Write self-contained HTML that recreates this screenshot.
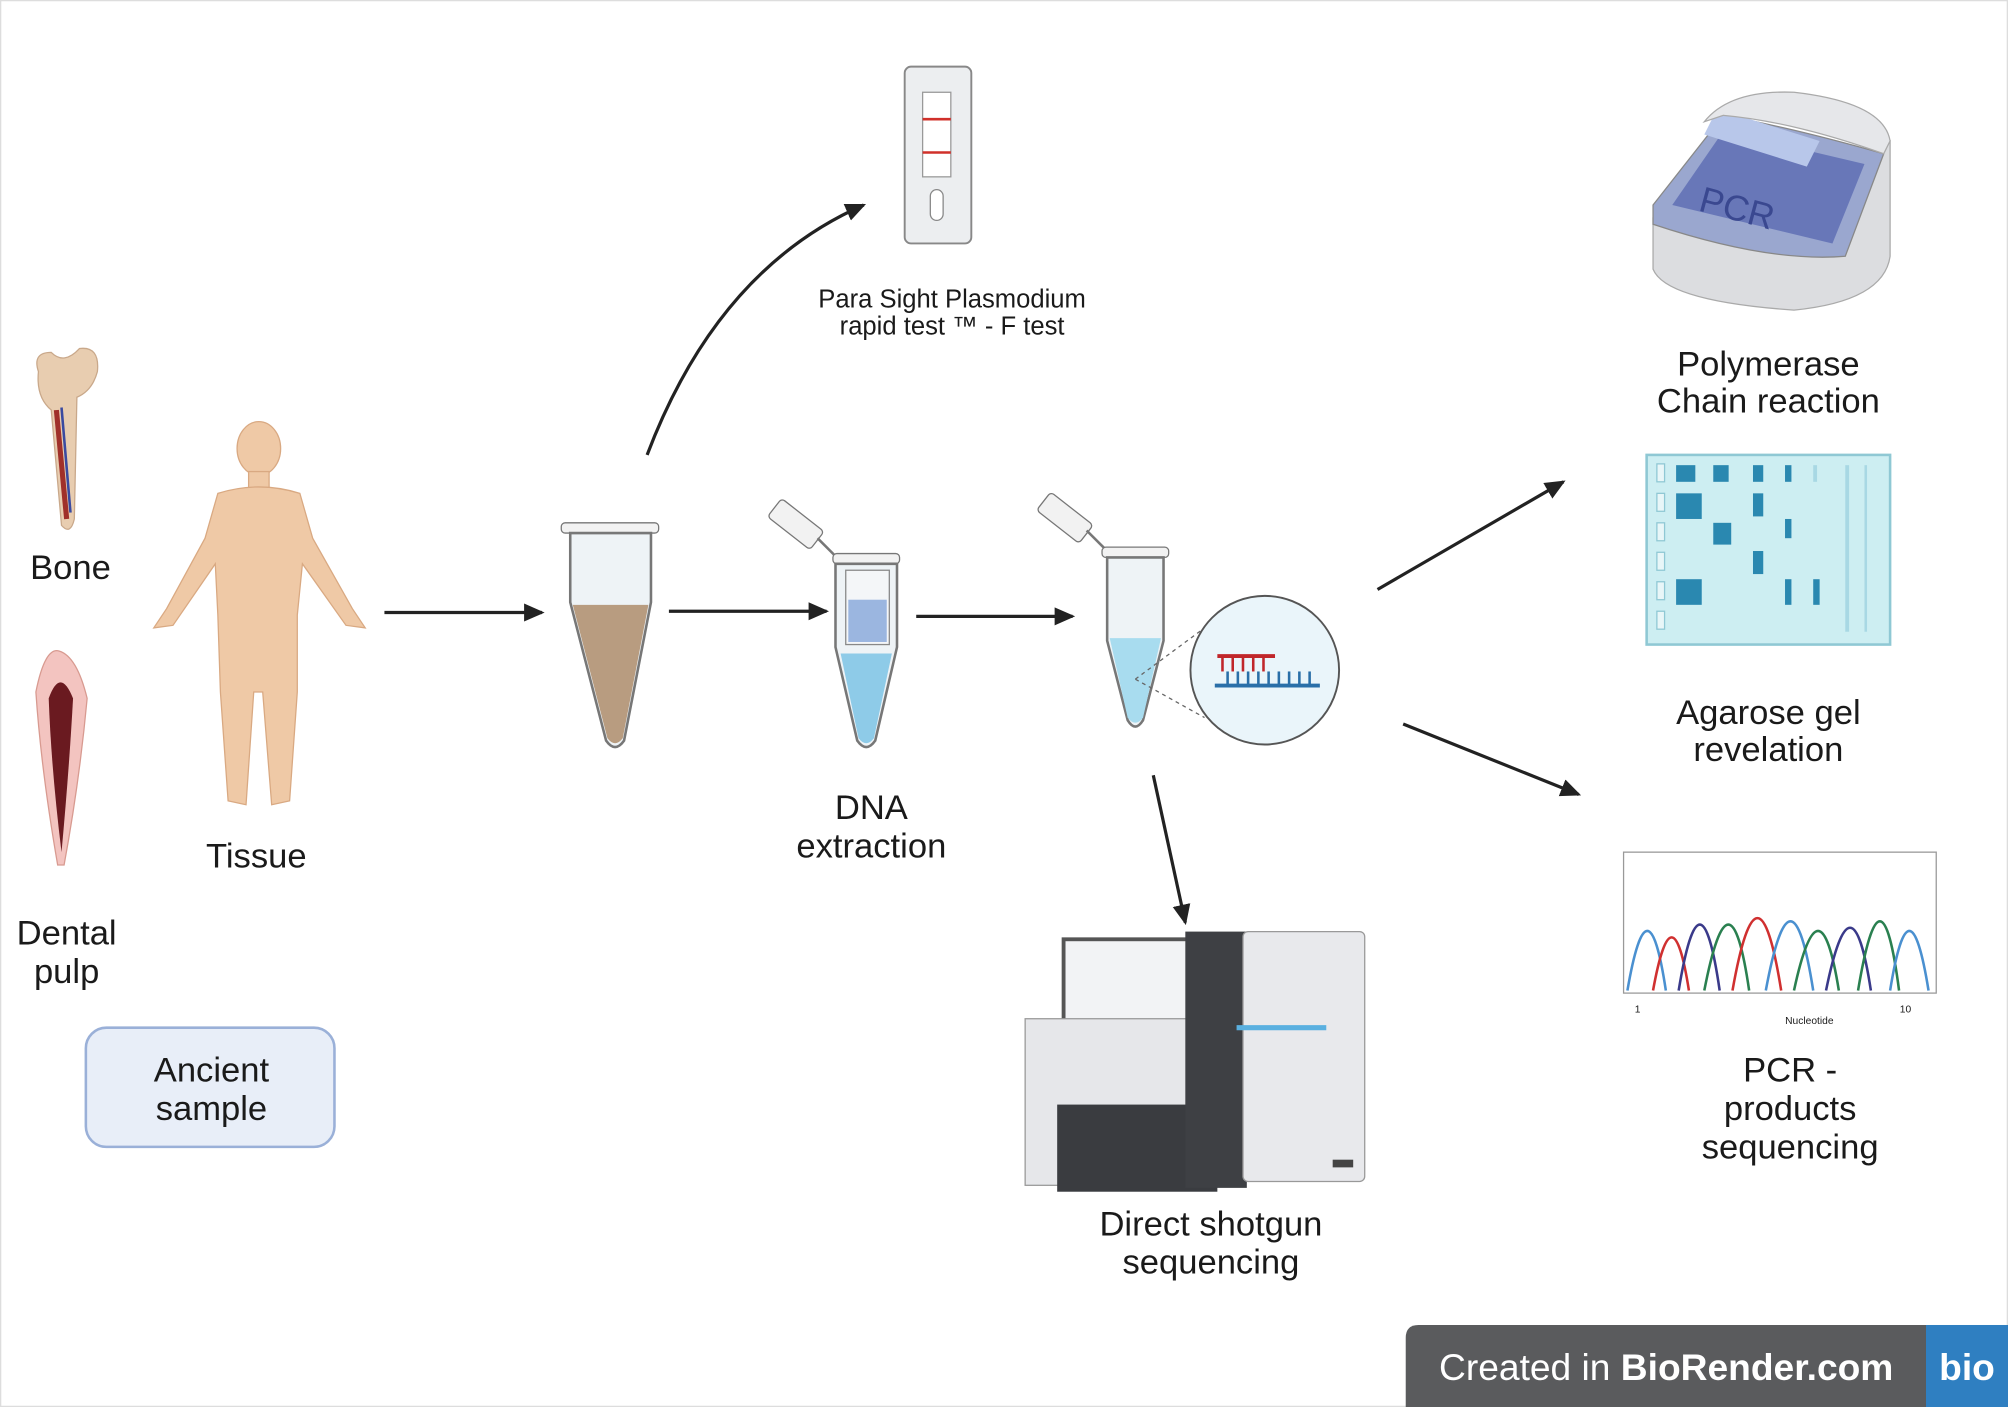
<!DOCTYPE html>
<html><head><meta charset="utf-8"><style>
html,body{margin:0;padding:0;background:#fff;}
svg{display:block;}
text{font-family:"Liberation Sans",sans-serif;fill:#1a1a1a;}
</style></head><body>
<svg width="2008" height="1407" viewBox="0 0 1567 1098" xmlns="http://www.w3.org/2000/svg">
<defs>
<marker id="ah2" markerWidth="16" markerHeight="16" refX="14" refY="8" orient="auto" markerUnits="userSpaceOnUse" viewBox="0 0 16 16">
<path d="M0,1 L16,8 L0,15 Z" fill="#222"/></marker>
</defs>
<rect x="0.5" y="0.5" width="1566" height="1097" fill="#fff" stroke="#ddd"/>

<!-- Bone -->
<path d="M30,290 Q25,275 40,275 Q50,285 62,272 Q78,270 76,290 Q72,305 60,310 L58,405 Q55,418 48,410 L40,320 Q28,310 30,290Z" fill="#e8cdb0" stroke="#c9a88a"/>
<path d="M44,320 L52,405" stroke="#a0302a" stroke-width="4"/>
<path d="M48,318 L55,400" stroke="#3a4aa0" stroke-width="2"/>
<text x="55" y="452" font-size="27" text-anchor="middle">Bone</text>
<!-- Tooth -->
<path d="M28,540 Q35,505 46,508 Q60,512 68,545 Q62,610 50,675 L45,675 Q32,600 28,540Z" fill="#f3c4c0" stroke="#d89a90"/>
<path d="M38,545 Q47,520 57,545 Q54,600 48,665 Q40,600 38,545Z" fill="#6a1a20"/>
<text x="52" y="737" font-size="27" text-anchor="middle">Dental</text>
<text x="52" y="767" font-size="27" text-anchor="middle">pulp</text>
<!-- Human -->
<g fill="#efc9a6" stroke="#d9a982" stroke-width="1">
<ellipse cx="202" cy="350" rx="17" ry="21"/>
<rect x="194" y="368" width="16" height="14"/>
<path d="M170,385 Q202,375 234,385 L244,420 L275,475 L285,490 L270,488 L236,440 L232,480 L232,540 L226,625 L212,628 L205,540 L198,540 L192,628 L178,625 L172,540 L170,480 L168,440 L135,488 L120,490 L130,475 L160,420 Z"/>
</g>
<text x="200" y="677" font-size="27" text-anchor="middle">Tissue</text>
<!-- Ancient sample -->
<rect x="67" y="802" width="194" height="93" rx="16" fill="#e8eef8" stroke="#9ab0d8" stroke-width="2"/>
<text x="165" y="844" font-size="27" text-anchor="middle">Ancient</text>
<text x="165" y="874" font-size="27" text-anchor="middle">sample</text>

<!-- Arrows -->
<g stroke="#222" stroke-width="2.5" fill="none">
<line x1="300" y1="478" x2="423" y2="478" marker-end="url(#ah2)"/>
<line x1="522" y1="477" x2="645" y2="477" marker-end="url(#ah2)"/>
<line x1="715" y1="481" x2="837" y2="481" marker-end="url(#ah2)"/>
<path d="M505,355 Q560,210 674,160" marker-end="url(#ah2)"/>
<line x1="1075" y1="460" x2="1220" y2="376" marker-end="url(#ah2)"/>
<line x1="1095" y1="565" x2="1232" y2="620" marker-end="url(#ah2)"/>
<line x1="900" y1="605" x2="925" y2="720" marker-end="url(#ah2)"/>
</g>

<!-- Tube 1 -->
<rect x="438" y="408" width="76" height="8" rx="3" fill="#f2f2f2" stroke="#777"/>
<path d="M445,416 L508,416 L508,470 L487,578 Q480,588 473,578 L445,470Z" fill="#eef3f6" stroke="#777" stroke-width="2"/>
<path d="M447,472 L506,472 L486,576 Q480,584 474,576Z" fill="#b89c80"/>
<!-- Tube 2 -->
<rect x="600" y="400" width="42" height="18" rx="3" transform="rotate(38 621 409)" fill="#f2f2f2" stroke="#777"/>
<path d="M638,420 L652,434" stroke="#777" stroke-width="2"/>
<rect x="650" y="432" width="52" height="8" rx="3" fill="#f2f2f2" stroke="#777"/>
<path d="M652,440 L700,440 L700,505 L683,578 Q676,588 669,578 L652,505Z" fill="#eef3f6" stroke="#777" stroke-width="2"/>
<rect x="660" y="445" width="34" height="58" fill="#f4f6f8" stroke="#888"/>
<rect x="662" y="468" width="30" height="33" fill="#9bb6e0"/>
<path d="M656,510 L696,510 L682,576 Q676,584 670,576Z" fill="#8ecbe8"/>
<!-- Tube 3 -->
<rect x="810" y="395" width="42" height="18" rx="3" transform="rotate(38 831 404)" fill="#f2f2f2" stroke="#777"/>
<path d="M848,414 L862,428" stroke="#777" stroke-width="2"/>
<rect x="860" y="427" width="52" height="8" rx="3" fill="#f2f2f2" stroke="#777"/>
<path d="M864,435 L908,435 L908,500 L892,562 Q886,572 880,562 L864,500Z" fill="#eef3f6" stroke="#777" stroke-width="2"/>
<path d="M866,498 L906,498 L892,560 Q886,568 880,560Z" fill="#a8dcef"/>
<line x1="886" y1="530" x2="940" y2="490" stroke="#666" stroke-dasharray="3,3"/>
<line x1="886" y1="530" x2="940" y2="560" stroke="#666" stroke-dasharray="3,3"/>
<circle cx="987" cy="523" r="58" fill="#eaf5fa" stroke="#555" stroke-width="1.5"/>
<line x1="950" y1="512" x2="995" y2="512" stroke="#c0262a" stroke-width="3"/>
<g stroke="#c0262a" stroke-width="2"><line x1="954" y1="512" x2="954" y2="524"/><line x1="962" y1="512" x2="962" y2="524"/><line x1="970" y1="512" x2="970" y2="524"/><line x1="978" y1="512" x2="978" y2="524"/><line x1="986" y1="512" x2="986" y2="524"/></g>
<g stroke="#2a6fa8" stroke-width="2"><line x1="958" y1="524" x2="958" y2="534"/><line x1="966" y1="524" x2="966" y2="534"/><line x1="974" y1="524" x2="974" y2="534"/><line x1="982" y1="524" x2="982" y2="534"/><line x1="990" y1="524" x2="990" y2="534"/><line x1="998" y1="524" x2="998" y2="534"/><line x1="1006" y1="524" x2="1006" y2="534"/><line x1="1014" y1="524" x2="1014" y2="534"/><line x1="1022" y1="524" x2="1022" y2="534"/></g>
<line x1="948" y1="535" x2="1030" y2="535" stroke="#2a6fa8" stroke-width="3"/>
<text x="680" y="639" font-size="27" text-anchor="middle">DNA</text>
<text x="680" y="669" font-size="27" text-anchor="middle">extraction</text>

<!-- Test cassette -->
<rect x="706" y="52" width="52" height="138" rx="5" fill="#eceef0" stroke="#888" stroke-width="1.5"/>
<rect x="720" y="72" width="22" height="66" fill="#fff" stroke="#999"/>
<line x1="720" y1="93" x2="742" y2="93" stroke="#d0302a" stroke-width="2"/>
<line x1="720" y1="119" x2="742" y2="119" stroke="#d0302a" stroke-width="2"/>
<rect x="726" y="148" width="10" height="24" rx="5" fill="#fff" stroke="#888"/>
<text x="743" y="240" font-size="20" text-anchor="middle">Para Sight Plasmodium</text>
<text x="743" y="261" font-size="20" text-anchor="middle">rapid test ™ - F test</text>

<!-- PCR machine -->
<path d="M1290,170 L1290,210 Q1300,235 1400,242 Q1470,235 1475,200 L1475,110 Z" fill="#dcdde0" stroke="#aaa"/>
<path d="M1290,160 L1345,90 Q1400,100 1470,120 L1440,200 Q1380,205 1290,175Z" fill="#9aa7cf" stroke="#888"/>
<path d="M1305,160 L1345,102 L1455,128 L1430,190 Z" fill="#6877b8"/>
<path d="M1330,105 L1340,85 L1420,110 L1410,130Z" fill="#b8c7ea"/>
<text x="1355" y="172" font-size="28" transform="rotate(15 1355 165)" text-anchor="middle" style="fill:#3a4890">PCR</text>
<path d="M1330,95 Q1350,70 1400,72 Q1470,80 1475,110 L1470,120 Q1400,95 1345,90Z" fill="#e6e7ea" stroke="#aaa"/>
<text x="1380" y="293" font-size="27" text-anchor="middle">Polymerase</text>
<text x="1380" y="322" font-size="27" text-anchor="middle">Chain reaction</text>

<!-- Gel -->
<rect x="1285" y="355" width="190" height="148" fill="#cdeef2" stroke="#8fc8d4" stroke-width="2"/>
<g fill="#2a88b0">
<rect x="1308" y="363" width="15" height="13"/><rect x="1337" y="363" width="12" height="13"/><rect x="1368" y="363" width="8" height="13"/><rect x="1393" y="363" width="5" height="13"/>
<rect x="1308" y="385" width="20" height="20"/><rect x="1368" y="385" width="8" height="18"/>
<rect x="1337" y="408" width="14" height="17"/><rect x="1393" y="405" width="5" height="15"/>
<rect x="1368" y="430" width="8" height="18"/>
<rect x="1308" y="452" width="20" height="20"/><rect x="1393" y="452" width="5" height="20"/><rect x="1415" y="452" width="5" height="20"/>
</g>
<g fill="#a8d8e4"><rect x="1415" y="363" width="3" height="13"/><rect x="1440" y="363" width="3" height="130"/><rect x="1455" y="363" width="2" height="130"/></g>
<g fill="#e8f6f8" stroke="#8fc8d4"><rect x="1293" y="362" width="6" height="14"/><rect x="1293" y="385" width="6" height="14"/><rect x="1293" y="408" width="6" height="14"/><rect x="1293" y="431" width="6" height="14"/><rect x="1293" y="454" width="6" height="14"/><rect x="1293" y="477" width="6" height="14"/></g>
<text x="1380" y="565" font-size="27" text-anchor="middle">Agarose gel</text>
<text x="1380" y="594" font-size="27" text-anchor="middle">revelation</text>

<!-- Chromatogram -->
<rect x="1267" y="665" width="244" height="110" fill="#fff" stroke="#999"/>
<g fill="none" stroke-width="2">
<path d="M1270,773 Q1286,680 1300,773" stroke="#4a90d0"/>
<path d="M1290,773 Q1305,690 1318,773" stroke="#d03030"/>
<path d="M1310,773 Q1327,670 1342,773" stroke="#3a3a8a"/>
<path d="M1330,773 Q1350,670 1365,773" stroke="#2a8050"/>
<path d="M1352,773 Q1372,660 1390,773" stroke="#d03030"/>
<path d="M1378,773 Q1398,665 1415,773" stroke="#4a90d0"/>
<path d="M1400,773 Q1420,680 1435,773" stroke="#2a8050"/>
<path d="M1425,773 Q1445,675 1460,773" stroke="#3a3a8a"/>
<path d="M1450,773 Q1468,665 1482,773" stroke="#2a8050"/>
<path d="M1475,773 Q1490,680 1505,773" stroke="#4a90d0"/>
</g>
<text x="1278" y="790" font-size="8" text-anchor="middle">1</text>
<text x="1412" y="799" font-size="8" text-anchor="middle">Nucleotide</text>
<text x="1487" y="790" font-size="8" text-anchor="middle">10</text>
<text x="1397" y="844" font-size="27" text-anchor="middle">PCR -</text>
<text x="1397" y="874" font-size="27" text-anchor="middle">products</text>
<text x="1397" y="904" font-size="27" text-anchor="middle">sequencing</text>

<!-- Sequencer -->
<rect x="830" y="733" width="100" height="68" fill="#f2f3f5" stroke="#555" stroke-width="3"/>
<rect x="800" y="795" width="145" height="130" fill="#e6e7ea" stroke="#999"/>
<rect x="825" y="862" width="125" height="68" fill="#3a3c40"/>
<rect x="925" y="727" width="48" height="200" fill="#3e4044"/>
<rect x="970" y="727" width="95" height="195" rx="4" fill="#e8e9ec" stroke="#999"/>
<line x1="965" y1="802" x2="1035" y2="802" stroke="#5ab0e0" stroke-width="4"/>
<rect x="1040" y="905" width="16" height="6" fill="#444"/>
<text x="945" y="964" font-size="27" text-anchor="middle">Direct shotgun</text>
<text x="945" y="994" font-size="27" text-anchor="middle">sequencing</text>

<!-- BioRender badge -->
<path d="M1097,1044 Q1097,1034 1107,1034 L1567,1034 L1567,1098 L1097,1098Z" fill="#5a5b5d"/>
<rect x="1503" y="1034" width="64" height="64" fill="#2f7fc1"/>
<text x="1123" y="1077" font-size="29" style="fill:#fff">Created in <tspan font-weight="bold">BioRender.com</tspan></text>
<text x="1535" y="1077" font-size="29" font-weight="bold" text-anchor="middle" style="fill:#fff">bio</text>
</svg>
</body></html>
